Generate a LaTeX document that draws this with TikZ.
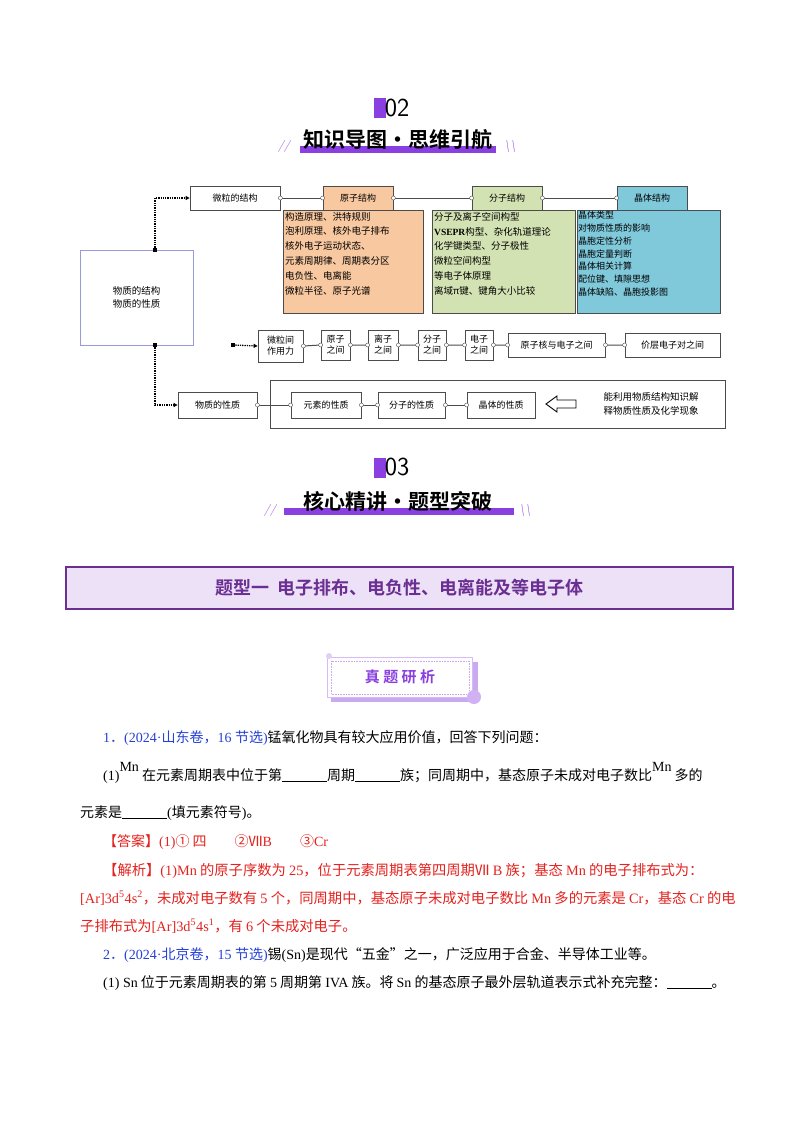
\documentclass[tikz,border=0pt]{standalone}
\usepackage{fontspec}
\setmainfont{Liberation Serif}
\newfontfamily\cjk{Noto Sans CJK SC}
\newfontfamily\cjkb{Noto Sans CJK SC Bold}
\newcommand{\lt}[1]{{\rmfamily #1}}
\usetikzlibrary{arrows.meta}
\definecolor{purp}{HTML}{8A3FE0}
\definecolor{bannerbg}{HTML}{ECE1F6}
\definecolor{bannerfg}{HTML}{6B2E92}
\definecolor{orng}{HTML}{F8C8A0}
\definecolor{grn}{HTML}{D3E2B2}
\definecolor{blu}{HTML}{80C9DB}
\definecolor{qred}{HTML}{E3231F}
\definecolor{qblue}{HTML}{2541D6}
\begin{document}
\begin{tikzpicture}[x=1pt,y=-1pt,
  mm/.style={draw=black!70,line width=0.8pt,font=\cjk\fontsize{9}{11}\selectfont,inner sep=1pt,align=center},
  body/.style={font=\cjk\fontsize{9.5}{14.8}\selectfont,align=left,anchor=north west,inner sep=2pt},
  lnk/.style={draw=black!70,line width=1pt},
  dot/.style={circle,draw=black!70,fill=white,inner sep=0pt,minimum size=4pt},
  sq/.style={fill=black,inner sep=0pt,minimum size=4pt},
  dotted arr/.style={densely dotted,line width=1.3pt,-{Triangle[length=4pt,width=4pt]}},
  txt/.style={anchor=base west,inner sep=0pt,font=\cjk\fontsize{14}{16}\selectfont},
  ttl/.style={font=\cjkb\fontsize{21}{24}\selectfont,inner sep=0pt}]
\useasboundingbox (0,0) rectangle (800,1132);
\fill[white] (0,0) rectangle (800,1132);
% ---------- 02 header
\fill[purp] (374,98) rectangle (386,118);
\node[font=\fontsize{26}{26}\selectfont\sffamily,inner sep=0pt] (n02) at (397,108) {02};
\fill[purp] (300,146) rectangle (496,153);
\node[ttl] (t02) at (398,140) {知识导图·思维引航};
\node[text=purp,font=\sffamily\itshape\fontsize{12}{12}\selectfont] (s1) at (284,146) {//};
\node[text=purp,font=\sffamily\itshape\fontsize{12}{12}\selectfont] (s2) at (510,146) {\textbackslash\textbackslash};
% ---------- mind map
\node[mm,minimum width=90pt,minimum height=24pt] (wl) at (235,198) {微粒的结构};
\node[mm,fill=orng,minimum width=70pt,minimum height=24pt] (yz) at (358,198) {原子结构};
\node[mm,fill=grn,minimum width=70pt,minimum height=24pt] (fz) at (507,198) {分子结构};
\node[mm,fill=blu,minimum width=70pt,minimum height=24pt] (jt) at (652,198) {晶体结构};
\draw[lnk] (wl.east) -- (yz.west) (yz.east) -- (fz.west) (fz.east) -- (jt.west);
\foreach \n in {wl.east,yz.west,yz.east,fz.west,fz.east,jt.west} \node[dot] at (\n) {};
\node[draw=black!70,fill=orng,line width=0.8pt,minimum width=140pt,minimum height=103pt,anchor=north west] (yzc) at (283,210) {};
\node[body] at (yzc.north west) {构造原理、洪特规则\\泡利原理、核外电子排布\\核外电子运动状态、\\元素周期律、周期表分区\\电负性、电离能\\微粒半径、原子光谱};
\node[draw=black!70,fill=grn,line width=0.8pt,minimum width=143pt,minimum height=103pt,anchor=north west] (fzc) at (432,210) {};
\node[body] at (fzc.north west) {分子及离子空间构型\\\lt{\textbf{VSEPR}}构型、杂化轨道理论\\化学键类型、分子极性\\微粒空间构型\\等电子体原理\\离域π键、键角大小比较};
\node[draw=black!70,fill=blu,line width=0.8pt,minimum width=143pt,minimum height=103pt,anchor=north west] (jtc) at (577,210) {};
\node[body,font=\cjk\fontsize{9}{12.8}\selectfont,inner sep=1pt] at (jtc.north west) {晶体类型\\对物质性质的影响\\晶胞定性分析\\晶胞定量判断\\晶体相关计算\\配位键、填隙思想\\晶体缺陷、晶胞投影图};
\node[draw=black!35!blue!40,line width=1pt,minimum width=113pt,minimum height=95pt,font=\cjk\fontsize{9.5}{13}\selectfont,align=center] (big) at (136.5,297.5) {物质的结构\\物质的性质};
\coordinate (sqa) at (155,250);
\coordinate (sqb) at (233,345);
\coordinate (sqc) at (155,345);
\draw[dotted arr] (sqa) |- (wl.west);
% row 2
\node[mm,minimum width=45pt,minimum height=32pt] (r1) at (280.5,346) {微粒间\\作用力};
\node[mm,minimum width=29pt,minimum height=30pt] (r2) at (335.5,345) {原子\\之间};
\node[mm,minimum width=30pt,minimum height=30pt] (r3) at (383,345) {离子\\之间};
\node[mm,minimum width=28pt,minimum height=30pt] (r4) at (432,345) {分子\\之间};
\node[mm,minimum width=28pt,minimum height=30pt] (r5) at (479,345) {电子\\之间};
\node[mm,minimum width=97pt,minimum height=24pt] (r6) at (556.5,345) {原子核与电子之间};
\node[mm,minimum width=95pt,minimum height=24pt] (r7) at (672.5,345) {价层电子对之间};
\draw[lnk] (r1.east) -- (r2.west) (r2.east) -- (r3.west) (r3.east) -- (r4.west) (r4.east) -- (r5.west) (r5.east) -- (r6.west) (r6.east) -- (r7.west);
\foreach \n in {r1,r2,r3,r4,r5,r6} \node[dot] at (\n.east) {};
\foreach \n in {r2,r3,r4,r5,r6,r7} \node[dot] at (\n.west) {};
\draw[dotted arr] (sqb) -- (r1.west);
% row 3
\node[draw=black!70,line width=0.8pt,minimum width=455pt,minimum height=48pt] (outer) at (497.5,404) {};
\node[mm,minimum width=79pt,minimum height=26pt] (p0) at (217.5,405) {物质的性质};
\node[mm,minimum width=70pt,minimum height=26pt] (p1) at (326,405) {元素的性质};
\node[mm,minimum width=67pt,minimum height=26pt] (p2) at (411.5,405) {分子的性质};
\node[mm,minimum width=68pt,minimum height=26pt] (p3) at (501,405) {晶体的性质};
\draw[lnk] (p0.east) -- (p1.west) (p1.east) -- (p2.west) (p2.east) -- (p3.west);
\foreach \n in {p0.east,p1.west,p1.east,p2.west,p2.east,p3.west} \node[dot] at (\n) {};
\draw[dotted arr] (sqc) |- (p0.west);
\foreach \c in {sqa,sqb,sqc} \node[sq] at (\c) {};
\draw[line width=0.9pt] (576,400) -- (557,400) -- (557,396) -- (546,404) -- (557,412) -- (557,408) -- (576,408) -- cycle;
\node[font=\cjk\fontsize{9.5}{14}\selectfont,align=left] (nl) at (651,404) {能利用物质结构知识解\\释物质性质及化学现象};
% ---------- 03 header
\fill[purp] (374,458) rectangle (386,478);
\node[font=\fontsize{26}{26}\selectfont\sffamily,inner sep=0pt] (n03) at (397,467) {03};
\fill[purp] (284,508) rectangle (514,515);
\node[ttl] (t03) at (398,501) {核心精讲·题型突破};
\node[text=purp,font=\sffamily\itshape\fontsize{12}{12}\selectfont] (s3) at (270,510) {//};
\node[text=purp,font=\sffamily\itshape\fontsize{12}{12}\selectfont] (s4) at (525,510) {\textbackslash\textbackslash};
% ---------- banner
\node[draw=bannerfg,fill=bannerbg,line width=2pt,minimum width=667pt,minimum height=42pt,text=bannerfg,font=\cjkb\fontsize{18}{20}\selectfont] (ban) at (399.5,588) {题型一\ \ 电子排布、电负性、电离能及等电子体};
% ---------- badge
\fill[purp!45] (331,662) rectangle (478,702);
\node[draw=purp!35,fill=white,line width=1pt,minimum width=145pt,minimum height=40pt,text=purp,font=\cjkb\fontsize{15}{18}\selectfont] (badge) at (400,677) {真\ 题\ 研\ 析};
\draw[purp!45,densely dotted,line width=0.6pt] (331,661) rectangle (469,694);
\fill[purp!40] (474,697) circle (7);
\fill[purp!25] (329,656) circle (3);
% ---------- text
\node[txt] (q1) at (103,742) {\textcolor{qblue}{\lt{1}．\lt{(2024·}山东卷，\lt{16 }节选\lt{)}}锰氧化物具有较大应用价值，回答下列问题：};
\node[txt] (q1a) at (103,780) {\lt{(1)\raisebox{9pt}{Mn}} 在元素周期表中位于第\underline{\hspace{45pt}}周期\underline{\hspace{45pt}}族；同周期中，基态原子未成对电子数比\lt{\raisebox{9pt}{Mn}} 多的};
\node[txt] (q1b) at (80,817) {元素是\underline{\hspace{45pt}}\lt{(}填元素符号\lt{)}。};
\node[txt,text=qred] (ans) at (103,846) {【答案】\lt{(1)}① 四\qquad ②Ⅶ\lt{B}\qquad ③\lt{Cr}};
\node[txt,text=qred,font=\cjk\fontsize{14.3}{16}\selectfont] (jx1) at (103,875) {【解析】\lt{(1)Mn} 的原子序数为 \lt{25}，位于元素周期表第四周期Ⅶ\lt{ B} 族；基态 \lt{Mn} 的电子排布式为：};
\node[txt,text=qred,font=\cjk\fontsize{14.3}{16}\selectfont] (jx2) at (80,903) {\lt{[Ar]3d\textsuperscript{5}4s\textsuperscript{2}}，未成对电子数有 \lt{5} 个，同周期中，基态原子未成对电子数比 \lt{Mn} 多的元素是 \lt{Cr}，基态 \lt{Cr} 的电};
\node[txt,text=qred,font=\cjk\fontsize{14.3}{16}\selectfont] (jx3) at (80,931) {子排布式为\lt{[Ar]3d\textsuperscript{5}4s\textsuperscript{1}}，有 \lt{6} 个未成对电子。};
\node[txt] (q2) at (103,959) {\textcolor{qblue}{\lt{2}．\lt{(2024·}北京卷，\lt{15 }节选\lt{)}}锡\lt{(Sn)}是现代“五金”之一，广泛应用于合金、半导体工业等。};
\node[txt] (q2a) at (103,987) {\lt{(1) Sn} 位于元素周期表的第 \lt{5} 周期第 \lt{IVA} 族。将 \lt{Sn} 的基态原子最外层轨道表示式补充完整：\underline{\hspace{45pt}}。};
\end{tikzpicture}
\end{document}
